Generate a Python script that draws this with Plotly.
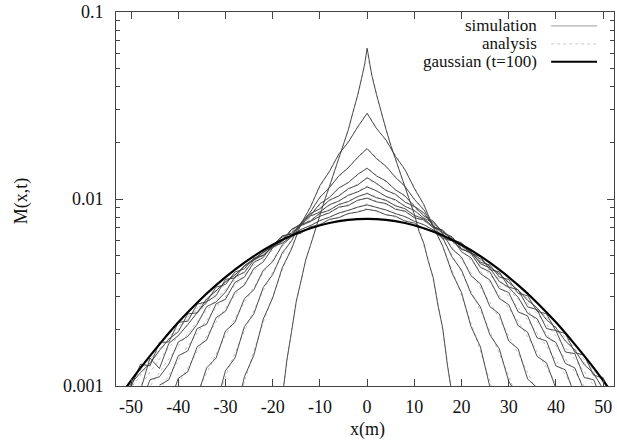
import plotly.graph_objects as go

# ---------------- data ----------------
# simulation curves (noisy), x in metres
sim_x_c1 = [-18, -17, -16, -15, -14, -13, -12, -11, -10, -9, -8, -7, -6, -5, -4, -3, -2, -1, -0.5,
            0, 0.5, 1, 2, 3, 4, 5, 6, 7, 8, 9, 10, 11, 12, 13, 14, 15, 16, 17, 18]
sim_y_c1 = [.00085, .00138, .00196, .00285, .00365, .00474, .00565, .00685, .00815, .00985, .01165,
            .0139, .0162, .0196, .0234, .0291, .0359, .0462, .0530,
            .064, .0525, .0458, .0361, .0289, .0236, .0194, .0164, .0137, .0118, .0097, .0083,
            .0067, .0058, .0046, .0038, .0027, .00205, .0013, .0009]

sim_x_c2 = list(range(-28, 29, 2))
sim_y_c2 = [.00068, .00112, .00146, .00228, .00296, .00428, .00541, .00738, .00905, .0118, .0140,
            .0174, .0201, .0243, .0287, .0238, .0207, .0169, .0144, .0114, .00935, .00708, .00562,
            .00402, .00316, .00208, .00162, .00099, .00074]

sim_x_c3 = list(range(-32, 33, 2))
sim_y_c3 = [.00079, .00121, .00141, .00208, .00243, .00337, .00394, .00514, .00598, .00745, .00852,
            .01024, .01148, .0133, .01468, .0167, .0186, .01642, .01497, .01305, .01172, .00995,
            .00878, .00718, .00622, .00489, .00417, .00312, .00265, .00188, .00158, .00106, .00087]

sim_x_c4 = list(range(-36, 37, 2))
sim_y_c4 = [.00088, .00125, .00141, .00197, .00219, .00293, .00327, .00416, .00462, .00567, .00628,
            .00748, .00818, .00944, .01018, .01146, .01222, .01355, .0146, .01328, .01249, .01118,
            .01042, .00915, .00843, .00719, .00655, .00541, .00489, .00389, .00352, .00266, .00243,
            .00174, .00158, .00109, .00098]

sim_x_c5 = list(range(-42, 43, 2))
sim_y_c5 = [.00079, .0011, .00119, .00162, .00176, .00232, .00251, .00318, .00346, .00425, .00461,
            .00549, .00592, .00688, .00736, .00836, .00887, .00986, .01038, .01135, .01188, .0130,
            .01212, .01112, .01061, .00963, .00911, .00811, .00762, .00662, .00617, .00522, .00485,
            .00399, .00369, .00294, .00272, .0021, .00194, .00144, .00133, .00097, .00089]

sim_x_c6 = list(range(-44, 45, 2))
sim_y_c6 = [.00101, .00108, .00145, .00154, .00203, .00214, .00275, .00291, .00358, .00382, .00458,
            .00487, .00568, .00603, .00688, .00726, .00811, .00851, .00932, .00974, .01048, .01091,
            .0116, .01106, .01031, .0099, .00914, .00869, .00789, .00749, .00663, .00628, .00542,
            .00512, .00431, .00408, .00332, .00316, .00249, .00237, .00181, .00174, .00128, .00122,
            .00089]

sim_x_c7 = list(range(-48, 49, 2))
sim_y_c7 = [.00079, .00108, .00112, .00131, .00172, .00184, .00214, .00266, .00281, .00318, .00384,
            .00405, .00472, .00501, .00551, .00628, .00658, .00731, .00764, .00839, .00871, .00935,
            .00968, .01031, .0107, .01016, .00985, .00919, .00888, .00816, .00784, .00713, .00681,
            .00602, .00574, .00521, .00451, .00428, .00362, .00337, .00298, .00245, .00229, .00183,
            .00171, .00132, .00125, .00094, .00088]

sim_x_c8 = list(range(-50, 51, 2))
sim_y_c8 = [.00091, .00095, .00141, .00124, .00169, .00186, .00213, .00247, .00282, .00304, .00372,
            .00378, .00441, .00479, .00523, .00562, .00636, .00649, .00721, .00758, .00809, .00843,
            .00905, .00922, .00985, .0101, .00965, .00946, .00881, .00862, .00794, .00772, .00702,
            .00679, .00606, .00584, .00512, .00492, .00419, .00408, .00338, .00327, .00265, .00256,
            .00203, .00198, .00152, .00149, .00111, .00108, .00081]

sim_x_c9 = list(range(-52, 53, 2))
sim_y_c9 = [.00081, .00103, .00118, .00132, .00155, .00178, .00195, .00243, .00246, .00292, .00323,
            .00361, .00392, .00438, .00472, .00519, .00556, .00602, .00639, .00688, .00721, .00767,
            .00799, .00841, .00869, .00904, .0093, .00899, .00874, .00835, .00806, .0076, .00729,
            .00683, .00646, .00598, .00562, .00516, .00478, .00434, .00398, .00357, .00326, .00287,
            .00262, .00226, .00205, .00174, .00156, .0013, .00117, .00096, .00085]

sim_x_c10 = list(range(-52, 53, 2))
sim_y_c10 = [.00093, .00099, .00131, .00128, .00171, .00172, .00219, .00222, .00274, .00282, .00338,
             .00349, .00407, .00423, .00483, .00499, .00559, .00579, .00637, .00656, .00711, .00728,
             .00778, .00795, .00836, .00851, .0088, .00864, .00823, .00809, .00762, .00744, .00693,
             .00674, .00617, .00597, .00539, .00519, .00459, .00444, .00383, .00371, .00313, .00304,
             .00251, .00243, .00197, .00191, .00151, .00146, .00114, .00111, .00086]

# analysis curves (smooth, symmetric): half profiles for x >= 0
an_x_c1 = [0, 0.5, 1, 2, 3, 4, 5, 6, 7, 8, 9, 10, 11, 12, 13, 14, 15, 16, 17, 18]
an_y_c1 = [.064, .052, .046, .036, .029, .0235, .0195, .0163, .0137, .0116, .0098, .0082, .0069,
           .0057, .0047, .0037, .0028, .002, .00135, .00088]
an_x_c2 = list(range(0, 29, 2))
an_y_c2 = [.0288, .0240, .0204, .0172, .0142, .0116, .00923, .00723, .00553, .00416, .00305, .00219,
           .00154, .00106, .00071]
an_x_c3 = list(range(0, 33, 2))
an_y_c3 = [.0187, .01655, .01483, .01319, .01161, .01009, .00865, .00731, .0061, .00501, .00406,
           .00324, .00254, .00197, .0015, .00113, .00083]
an_x_c4 = list(range(0, 37, 2))
an_y_c4 = [.0147, .0134, .01236, .01132, .0103, .00929, .0083, .00733, .00641, .00555, .00475, .00403,
           .00338, .0028, .0023, .00186, .00149, .00118, .00093]
an_x_c5 = list(range(0, 43, 2))
an_y_c5 = [.0129, .01199, .01124, .0105, .00975, .00899, .00823, .00748, .00675, .00604, .00536,
           .00472, .00412, .00357, .00306, .00261, .00221, .00185, .00153, .00126, .00103, .00084]
an_x_c6 = list(range(0, 45, 2))
an_y_c6 = [.0117, .01099, .0104, .00982, .00923, .00861, .008, .00738, .00676, .00615, .00556, .00499,
           .00445, .00394, .00346, .00302, .00262, .00225, .00192, .00163, .00137, .00115, .00095]
an_x_c7 = list(range(0, 49, 2))
an_y_c7 = [.0108, .01023, .00976, .00928, .00879, .00828, .00775, .00722, .00669, .00615, .00563,
           .00512, .00463, .00416, .00371, .00329, .0029, .00254, .00221, .00191, .00164, .0014,
           .00119, .001, .00084]
an_x_c8 = list(range(0, 51, 2))
an_y_c8 = [.0102, .00975, .00935, .00894, .00851, .00807, .00761, .00714, .00667, .00618, .00571,
           .00524, .00478, .00434, .00391, .00351, .00313, .00277, .00244, .00214, .00186, .00161,
           .00139, .00119, .00101, .00085]
an_x_c9 = list(range(0, 53, 2))
an_y_c9 = [.0094, .00902, .00871, .00838, .00802, .00764, .00725, .00685, .00643, .00601, .00559,
           .00517, .00475, .00435, .00396, .00359, .00323, .0029, .00258, .00229, .00201, .00176,
           .00154, .00133, .00115, .00098, .00084]
an_x_c10 = list(range(0, 53, 2))
an_y_c10 = [.0089, .00858, .0083, .00802, .0077, .00736, .00702, .00665, .00627, .00588, .00549,
            .00509, .00471, .00433, .00395, .0036, .00325, .00293, .00262, .00233, .00207, .00182,
            .00159, .00139, .00121, .00104, .00089]

# gaussian (t=100), half profile
gauss_x = [0, 4, 8, 12, 16, 20, 24, 28, 32, 36, 40, 44, 48, 52]
gauss_y = [.00783, .00773, .00744, .00698, .00638, .00569, .00495, .00419, .00346, .00279, .00219,
           .00167, .00125, .00091]

x_ticks = [-50, -40, -30, -20, -10, 0, 10, 20, 30, 40, 50]
x_tick_text = ["-50", "-40", "-30", "-20", "-10", "0", "10", "20", "30", "40", "50"]
y_ticks = [0.001, 0.01, 0.1]
y_tick_text = ["0.001", "0.01", "0.1"]
legend_labels = ["simulation", "analysis", "gaussian (t=100)"]

# ---------------- figure ----------------
def mirror(hx, hy):
    fx = [-v for v in reversed(hx[1:])] + list(hx)
    fy = list(reversed(hy[1:])) + list(hy)
    return fx, fy

sims = [(sim_x_c1, sim_y_c1), (sim_x_c2, sim_y_c2), (sim_x_c3, sim_y_c3), (sim_x_c4, sim_y_c4),
        (sim_x_c5, sim_y_c5), (sim_x_c6, sim_y_c6), (sim_x_c7, sim_y_c7), (sim_x_c8, sim_y_c8),
        (sim_x_c9, sim_y_c9), (sim_x_c10, sim_y_c10)]
ans = [(an_x_c1, an_y_c1), (an_x_c2, an_y_c2), (an_x_c3, an_y_c3), (an_x_c4, an_y_c4),
       (an_x_c5, an_y_c5), (an_x_c6, an_y_c6), (an_x_c7, an_y_c7), (an_x_c8, an_y_c8),
       (an_x_c9, an_y_c9), (an_x_c10, an_y_c10)]

fig = go.Figure()
for hx, hy in ans:
    fx, fy = mirror(hx, hy)
    fig.add_trace(go.Scatter(x=fx, y=fy, mode="lines", showlegend=False, hoverinfo="skip",
                             line=dict(color="#b0b0b0", width=0.8, dash="dot")))
for sx, sy in sims:
    fig.add_trace(go.Scatter(x=sx, y=sy, mode="lines", showlegend=False, hoverinfo="skip",
                             line=dict(color="#3c3c3c", width=0.9)))
gx, gy = mirror(gauss_x, gauss_y)
fig.add_trace(go.Scatter(x=gx, y=gy, mode="lines", showlegend=False, hoverinfo="skip",
                         line=dict(color="#000000", width=2.2, shape="spline")))

FONT = "Liberation Serif"
FS = 18
L, R, T, B = 116, 2, 10, 61
W, H = 617, 447
pw, ph = W - L - R, H - T - B

def px_to_paper_x(px):
    return (px - L) / pw

def py_to_paper_y(py):
    return (H - B - py) / ph

annotations = []
shapes = []
legend_rows = [24, 42, 60]
legend_styles = [dict(color="#9a9a9a", width=1), dict(color="#c8c8c8", width=1, dash="dot"),
                 dict(color="#000000", width=2.2)]
for lab, ry, st in zip(legend_labels, legend_rows, legend_styles):
    annotations.append(dict(text=lab, xref="paper", yref="paper", x=px_to_paper_x(540),
                            y=py_to_paper_y(ry), xanchor="right", yanchor="middle",
                            showarrow=False, font=dict(family=FONT, size=17, color="#111")))
    shapes.append(dict(type="line", xref="paper", yref="paper", x0=px_to_paper_x(552),
                       x1=px_to_paper_x(598), y0=py_to_paper_y(ry), y1=py_to_paper_y(ry),
                       line=st))

annotations.append(dict(text="x(m)", xref="paper", yref="paper", x=px_to_paper_x(368),
                        y=py_to_paper_y(430), xanchor="center", yanchor="middle", showarrow=False,
                        font=dict(family=FONT, size=FS, color="#111")))
annotations.append(dict(text="M(x,t)", xref="paper", yref="paper", x=px_to_paper_x(22),
                        y=py_to_paper_y(200), xanchor="center", yanchor="middle", showarrow=False,
                        textangle=-90, font=dict(family=FONT, size=FS, color="#111")))

minor_vals = [m * d for d in (0.001, 0.01) for m in range(2, 10)]

fig.update_layout(
    width=W, height=H, margin=dict(l=L, r=R, t=T, b=B, pad=0),
    paper_bgcolor="white", plot_bgcolor="white",
    font=dict(family=FONT, size=FS, color="#111"),
    annotations=annotations, shapes=shapes, showlegend=False,
)
fig.update_xaxes(range=[-53.2, 52.3], tickvals=x_ticks, ticktext=x_tick_text, ticks="inside",
                 ticklen=7, tickcolor="#444", showline=True, linecolor="#444", linewidth=1,
                 mirror="ticks", showgrid=False, zeroline=False, ticklabelstandoff=4,
                 tickfont=dict(family=FONT, size=FS, color="#111"))
fig.update_yaxes(type="log", range=[-3, -1], tickvals=y_ticks, ticktext=y_tick_text,
                 ticks="inside", ticklen=7, tickcolor="#444", showline=True, linecolor="#444",
                 linewidth=1, mirror="ticks", showgrid=False, zeroline=False,
                 ticklabelstandoff=8,
                 minor=dict(tickvals=minor_vals, ticks="inside", ticklen=4, tickcolor="#444"),
                 tickfont=dict(family=FONT, size=FS, color="#111"))

fig.write_html("out.html", config={"displayModeBar": False},
               post_script="document.body.style.margin='0';")
